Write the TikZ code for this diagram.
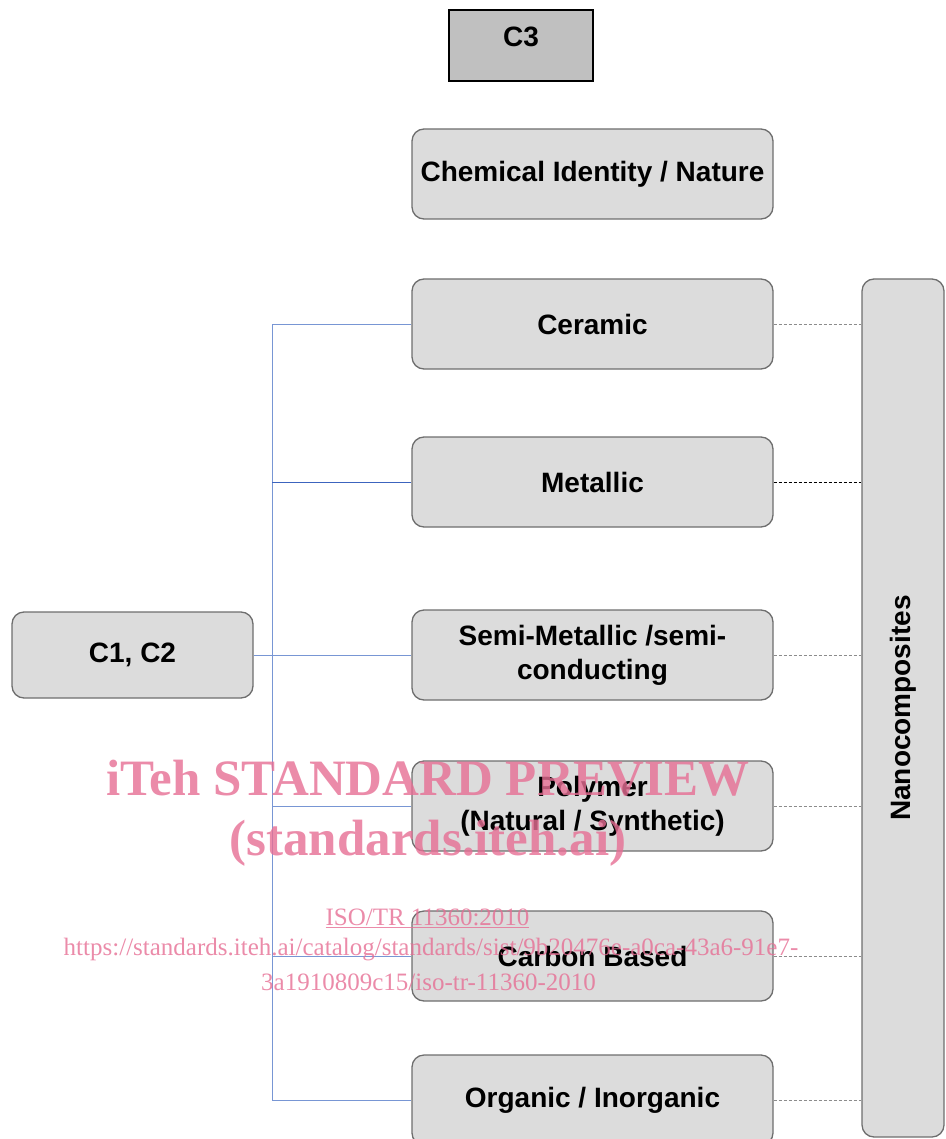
\documentclass[tikz,border=0pt]{standalone}
\usepackage{fontspec}
\setmainfont{Liberation Serif}
\setsansfont{Liberation Sans}
\definecolor{boxfill}{RGB}{220,220,220}
\definecolor{boxborder}{RGB}{110,110,110}
\definecolor{cthree}{RGB}{192,192,192}
\definecolor{bluelink}{RGB}{120,150,212}
\definecolor{dashgray}{RGB}{140,140,140}
\definecolor{wmpink}{RGB}{230,110,148}
\begin{document}
\begin{tikzpicture}[x=1pt,y=-1pt,
  lbl/.style={font=\sffamily\bfseries\fontsize{28}{34}\selectfont, text=black},
  box/.style={lbl, draw=boxborder, fill=boxfill, line width=1.3pt, rounded corners=12pt,
    minimum width=361pt, minimum height=90pt, inner sep=0pt, align=center},
  c3box/.style={lbl, draw=black, fill=cthree, line width=2.2pt, minimum width=144pt,
    minimum height=71pt, inner sep=0pt, text height=20pt, text depth=17.5pt},
  link/.style={draw=bluelink, line width=1pt},
  dashlink/.style={draw=dashgray, line width=0.9pt, dash pattern=on 3pt off 2pt},
  wm/.style={text=wmpink, text opacity=0.8, inner sep=0pt, anchor=base},
]
\useasboundingbox (0,0) rectangle (945,1139);

% nodes
\node[c3box] (c3) at (521,45.5) {C3};
\node[box] (chem) at (592.5,174) {Chemical Identity / Nature};
\node[box] (ceramic) at (592.5,324) {Ceramic};
\node[box] (metallic) at (592.5,482) {Metallic};
\node[box] (semi) at (592.5,655) {Semi-Metallic /semi-\\conducting};
\node[box] (polymer) at (592.5,806) {Polymer\\(Natural / Synthetic)};
\node[box] (carbon) at (592.5,956) {Carbon Based};
\node[box] (organic) at (592.5,1100) {Organic / Inorganic};
\node[box, minimum width=241pt, minimum height=86pt] (c12) at (132.5,655) {C1, C2};
\node[box, minimum width=858pt, minimum height=82pt, rotate=90] (nano) at (903,708) {Nanocomposites};

% blue tree connectors
\coordinate (spine) at (272,0);
\draw[link] (c12.east) -- (semi.west);
\draw[link] (ceramic.west -| spine) -- (organic.west -| spine);
\foreach \n in {ceramic,polymer,carbon,organic}
  \draw[link] (\n.west -| spine) -- (\n.west);
\draw[link, draw={rgb,255:red,60;green,100;blue,190}] (metallic.west -| spine) -- (metallic.west);

% dashed connectors to Nanocomposites
\foreach \n in {ceramic,semi,polymer,carbon,organic}
  \draw[dashlink] (\n.east) -- (\n.east -| nano.north);
\draw[dashlink, draw=black] (metallic.east) -- (metallic.east -| nano.north);

% watermark
\node[wm, font=\bfseries\fontsize{51}{51}\selectfont] (wm1) at (428,795) {iTeh STANDARD PREVIEW};
\node[wm, font=\bfseries\fontsize{51}{51}\selectfont] (wm2) at (428,855) {(standards.iteh.ai)};
\node[wm, font=\fontsize{25}{25}\selectfont] (wm3) at (427.5,925) {\underline{ISO/TR 11360:2010}};
\node[wm, font=\fontsize{25}{25}\selectfont] (wm4) at (431,955) {https://standards.iteh.ai/catalog/standards/sist/9b20476e-a0ca-43a6-91e7-};
\node[wm, font=\fontsize{25}{25}\selectfont] (wm5) at (428.5,990) {3a1910809c15/iso-tr-11360-2010};
\end{tikzpicture}
\end{document}
